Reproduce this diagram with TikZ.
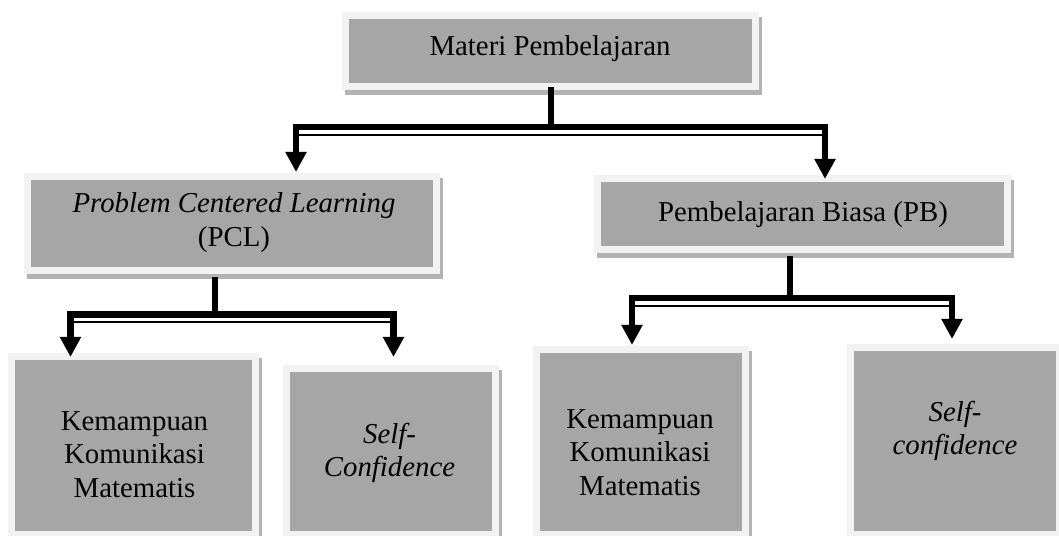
\documentclass[tikz,border=0pt]{standalone}
\usepackage{fontspec}
\setmainfont{Liberation Serif}
\usetikzlibrary{arrows.meta}
\definecolor{boxgray}{HTML}{A6A6A6}
\definecolor{rimgray}{HTML}{F2F2F2}
\definecolor{shadegray}{HTML}{B3B3B3}
\begin{document}
\begin{tikzpicture}[x=0.025cm, y=-0.025cm,
	box/.style={fill=boxgray, inner sep=0pt, outer sep=0pt,
		preaction={fill=shadegray, draw=shadegray, line width=0.35cm, transform canvas={shift={(0.075cm,-0.125cm)}}},
		preaction={draw=rimgray, line width=0.35cm}},
	txt/.style={font=\fontsize{20.5}{23.5}\selectfont, align=center, anchor=base, inner sep=0pt},
	stem/.style={line width=0.16cm},
	link/.style={line width=0.16cm, -{Triangle[length=0.5cm,width=0.5cm]},
		postaction={draw, -, line width=0.05cm, shorten >=0.8cm, transform canvas={yshift=-0.1875cm}}}]
		    \useasboundingbox (0,0) rectangle (1059,535);
		    	\node[box, minimum width=10.075cm, minimum height=1.6cm] (MP) at (550.5,51) {};
		    	\node[box, minimum width=10.05cm, minimum height=2.175cm] (PCL) at (232,223.5) {};
		    	\node[box, minimum width=10.075cm, minimum height=1.6cm] (PB) at (802.5,214) {};
		    	\node[box, minimum width=5.925cm, minimum height=4.275cm] (KA) at (133.5,445.5) {};
		    	\node[box, minimum width=5.05cm, minimum height=3.975cm] (SA) at (391,451.5) {};
		    	\node[box, minimum width=5.05cm, minimum height=4.45cm] (KB) at (641,442) {};
		    	\node[box, minimum width=5.05cm, minimum height=4.5cm] (SB) at (955,441) {};
		    	
		    	\node[txt] (MPt) at (550,55) {Materi Pembelajaran};
		    	\node[txt] (PCLt) at (234,246) {\textit{Problem Centered Learning}\\(PCL)};
		    	\node[txt] (PBt) at (803,221) {Pembelajaran Biasa (PB)};
		    	\node[txt] (KAt) at (134.5,497) {Kemampuan\\Komunikasi\\Matematis};
		    	\node[txt] (SAt) at (389.5,476.5) {\textit{Self-}\\\textit{Confidence}};
		    	\node[txt] (KBt) at (640,495) {Kemampuan\\Komunikasi\\Matematis};
		    	\node[txt] (SBt) at (955,454.5) {\textit{Self-}\\\textit{confidence}};
		    	
		    	\coordinate (J1) at (551,127);
		    	\coordinate (J2) at (215,314.5);
		    	\coordinate (J3) at (790,298);
		    	
		    	\draw[stem, shorten <=0.1cm] (J1 |- MP.south)--(J1);
		    	\draw[stem, shorten <=0.25cm] (J2 |- PCL.south)--(J2);
		    	\draw[stem, shorten <=0.25cm] (J3 |- PB.south)--(J3);
		    	\draw[link, shorten >=0.2cm] (J1) -| ([xshift=1.6cm]PCL.north);
		    	\draw[link, shorten >=0.075cm] (J1) -| ([xshift=0.5625cm]PB.north);
		    	\draw[link, shorten >=0.075cm] (J2) -| ([xshift=-1.575cm]KA.north);
		    	\draw[link, shorten >=0.375cm] (J2) -| ([xshift=0.0625cm]SA.north);
		    	\draw[link, shorten >=0.2cm] (J3) -| ([xshift=-0.225cm]KB.north);
		    	\draw[link, shorten >=0.3cm] (J3) -| ([xshift=-0.075cm]SB.north);
		    \end{tikzpicture}
\end{document}
